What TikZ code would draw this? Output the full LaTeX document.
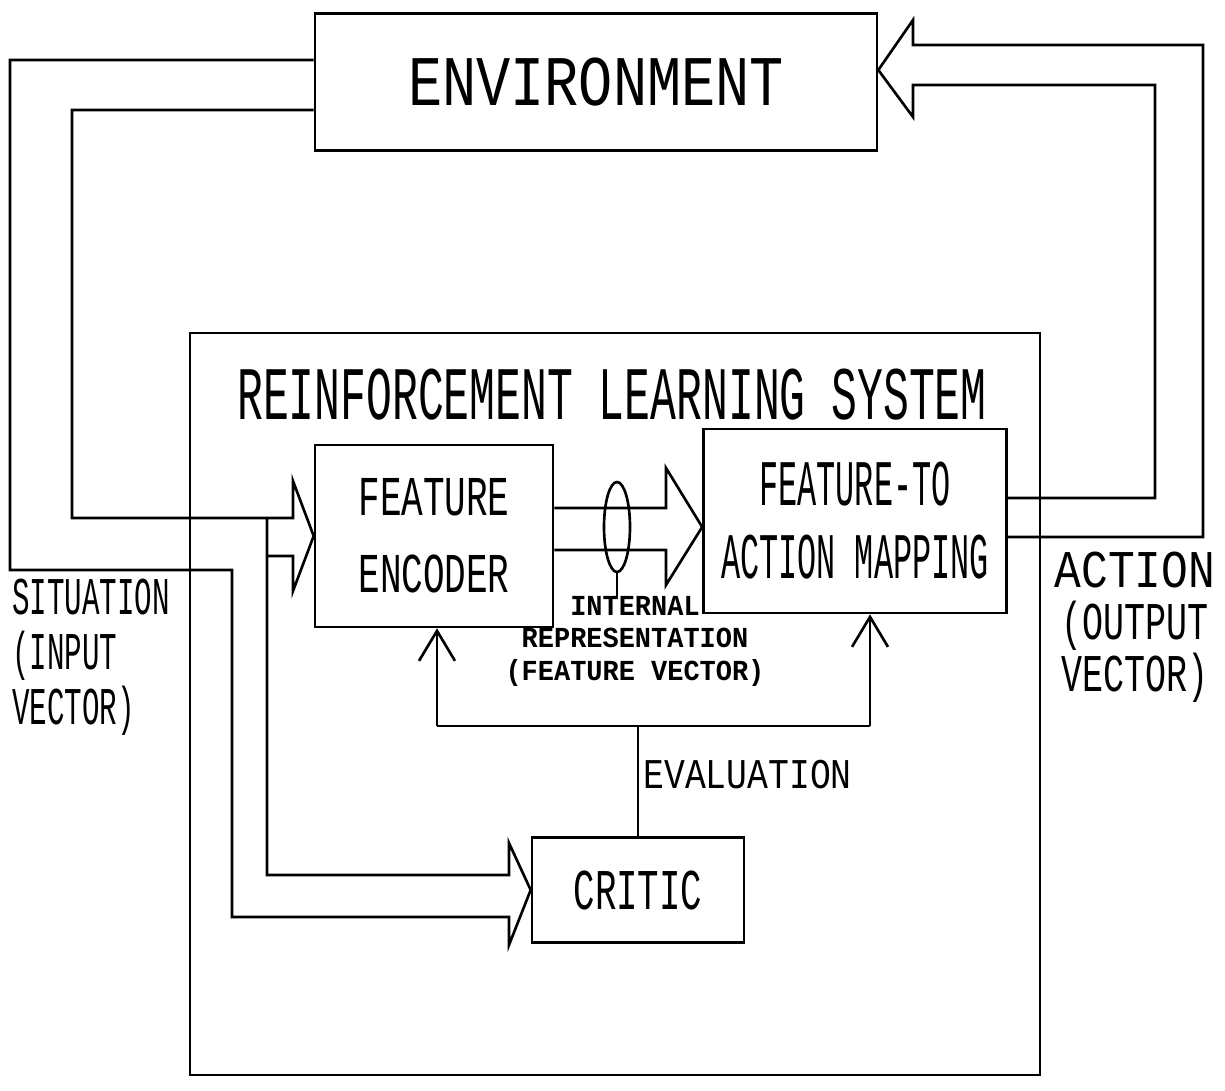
\documentclass[tikz,border=0pt]{standalone}
\usepackage{fontspec}
\usepackage{tikz}
\usetikzlibrary{arrows.meta, positioning, shapes.geometric, calc}
\newcommand{\plotter}[3]{\fontspec{Liberation Mono}[FakeStretch=#1]\fontsize{#2}{#3}\selectfont}
\tikzset{
  plotbox/.style={draw, line width=1.5pt, inner sep=0pt, align=center},
  penline/.style={line width=1.5pt, line join=miter},
  fbarrow/.style={penline, -{Straight Barb[length=6mm, width=7.2mm]}},
  plotlbl/.style={inner sep=0pt, align=center},
}

\begin{document}
\begin{tikzpicture}[x=0.2mm, y=-0.2mm]
        \useasboundingbox (0,0) rectangle (1225,1091);
        % boxes
        \node[plotbox, minimum width=112.4mm, minimum height=27.4mm, font=\plotter{0.8}{40.5pt}{44pt}] (env) at (596,82) {ENVIRONMENT};
        \node[plotbox, minimum width=170mm, minimum height=148.4mm] (rls) at (615,704) {};
        \node[plotlbl, font=\plotter{0.57}{43pt}{46pt}] (rlstitle) at (612,395) {REINFORCEMENT LEARNING SYSTEM};
        \node[plotbox, minimum width=47.6mm, minimum height=36.4mm, font=\plotter{0.64}{32pt}{43.8pt}] (fe) at (434,536) {FEATURE\\ENCODER};
        \node[plotbox, minimum width=60.6mm, minimum height=36.8mm, font=\plotter{0.49}{37pt}{41.5pt}] (fam) at (855,521) {FEATURE-TO\\ACTION MAPPING};
        \node[plotbox, minimum width=42.4mm, minimum height=21mm, font=\plotter{0.62}{32.8pt}{36pt}] (critic) at (638,890) {CRITIC};
        % labels
        \node[plotlbl, anchor=west, align=left, font=\plotter{0.55}{30.2pt}{31.3pt}] (situation) at (12,657) {SITUATION\\(INPUT\\VECTOR)};
        \node[plotlbl, font=\plotter{0.66}{30.2pt}{29.6pt}] (action) at (1135,627) {{\plotter{0.84}{30.2pt}{29.6pt}ACTION}\\(OUTPUT\\VECTOR)};
        \node[plotlbl, font=\plotter{0.93}{16.5pt}{18.5pt}\bfseries] (intrep) at (635,641) {INTERNAL\\REPRESENTATION\\(FEATURE VECTOR)};
        \node[plotlbl, anchor=west, font=\plotter{0.82}{24.1pt}{26pt}] (evaltxt) at (643,775) {EVALUATION};
        % action back to environment
        \draw[penline] ([yshift=-3.2mm]fam.east) -| (1203,45) -- (913,45) -- (913,20)
          -- (env.east |- 0,70) -- (913,117) -- (913,85) -- (1155,85) |- ([yshift=4.6mm]fam.east);
        % situation into feature encoder
        \draw[penline] ([yshift=-5.6mm]env.west) -| (72,518) -- (293,518) -- (293,481)
          -- (fe.west) -- (293,591) -- (293,556) -- (267,556);
        % situation into critic
        \draw[penline] (267,518) |- (509,875) -- (509,843) -- (critic.west) -- (509,945)
          -- (509,917) -| (232,570) -- (10,570) |- ([yshift=4.4mm]env.west);
        % internal representation
        \draw[penline] ([yshift=5.6mm]fe.east) -- (666,508) -- (666,468) -- (fam.west |- 0,527)
          -- (666,585) -- (666,550) -- ([yshift=-2.8mm]fe.east);
        \node[draw, ellipse, line width=1.5pt, minimum width=5.2mm, minimum height=18mm, inner sep=0pt] (bundle) at (617,527) {};
        \draw[penline] (bundle.south) -- (bundle.south |- intrep.north);
        % evaluation
        \coordinate (fbl) at (437,726);
        \coordinate (fbr) at (870,726);
        \draw[penline] (critic.north) -- (critic.north |- fbl);
        \draw[penline] (fbl) -- (fbr);
        \draw[fbarrow] (fbl) -- (fbl |- fe.south);
        \draw[fbarrow] (fbr) -- (fbr |- fam.south);
      \end{tikzpicture}
\end{document}
